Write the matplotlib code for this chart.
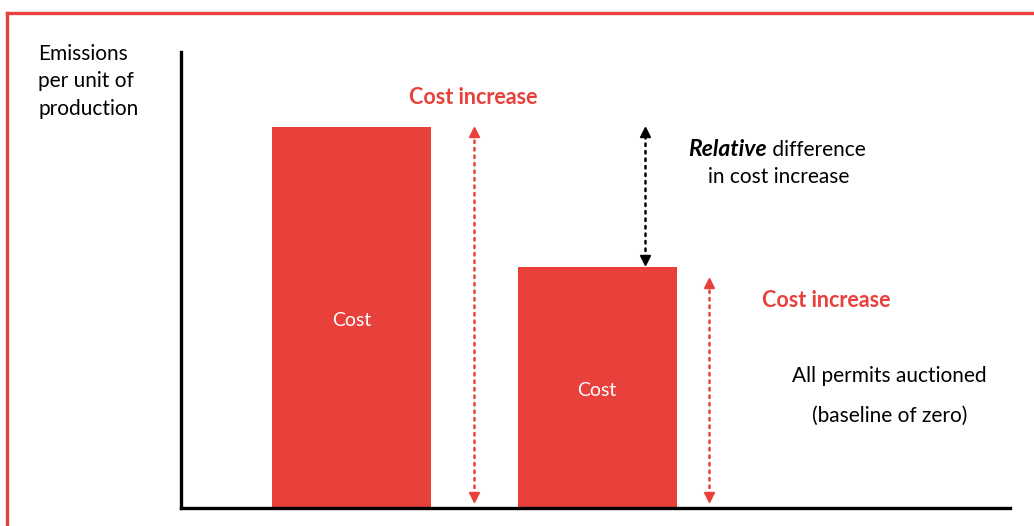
import matplotlib.pyplot as plt
from matplotlib.lines import Line2D

plt.rcParams['font.family'] = ['Lato', 'DejaVu Sans']

# schematic values (axis runs 0-100, x positions 0-10)
bar_labels = ["Cost", "Cost"]
bar_x = [2.06, 5.02]
bar_heights = [83.5, 52.9]
bar_width = 1.92

red = "#E8403A"

fig = plt.figure(figsize=(10.34, 5.26), dpi=100)
ax = fig.add_axes([181 / 1034, 18 / 526, 829 / 1034, 456 / 526])
ax.set_xlim(0, 10)
ax.set_ylim(0, 100)

ax.bar(bar_x, bar_heights, width=bar_width, color=red, zorder=2)
for x, h, lab in zip(bar_x, bar_heights, bar_labels):
    ax.text(x, h / 2 - 0.6, lab, color="white", fontsize=14, ha="center", va="center")


def dotted_arrow(x, y0, y1, color):
    ax.plot([x, x], [y0 + 1.5, y1 - 1.5], color=color, lw=1.8,
            linestyle=(0, (1, 2.0)), dash_capstyle="round", zorder=3)
    ax.plot([x], [y1 - 1.1], marker="^", color=color, markersize=7, zorder=3)
    ax.plot([x], [y0 + 1.1], marker="v", color=color, markersize=7, zorder=3)


# arrows showing the cost increase and the relative difference
dotted_arrow(3.53, 1.3, bar_heights[0], red)
dotted_arrow(6.37, 1.3, 50.4, red)
dotted_arrow(5.60, bar_heights[1] + 0.4, bar_heights[0], "black")

ax.text(3.52, 90.1, "Cost increase", color=red, fontsize=15.5,
        fontweight="bold", ha="center", va="center")
ax.text(7.78, 45.6, "Cost increase", color=red, fontsize=15.5,
        fontweight="bold", ha="center", va="center")

rel = ax.text(6.12, 78.7, "Relative", fontsize=16.5, fontweight="bold",
              fontstyle="italic", ha="left", va="center")
ax.annotate(" difference", xy=(1, 0), xycoords=rel, fontsize=15,
            ha="left", va="bottom")
ax.text(7.21, 72.6, "in cost increase", fontsize=15, ha="center", va="center")

ax.text(8.55, 28.9, "All permits auctioned", fontsize=15, ha="center", va="center")
ax.text(8.55, 20.2, "(baseline of zero)", fontsize=15, ha="center", va="center")

fig.text(38 / 1034, 1 - 44 / 526, "Emissions\nper unit of\nproduction",
         fontsize=15, ha="left", va="top", linespacing=1.46)

for s in ["top", "right"]:
    ax.spines[s].set_visible(False)
for s in ["left", "bottom"]:
    ax.spines[s].set_linewidth(2.4)
    ax.spines[s].set_capstyle("projecting")
ax.set_xticks([])
ax.set_yticks([])

# red frame along the top and left edges
fig.add_artist(Line2D([7 / 1034, 1], [1 - 12.5 / 526, 1 - 12.5 / 526],
                      color=red, lw=2.4, transform=fig.transFigure))
fig.add_artist(Line2D([7 / 1034, 7 / 1034], [0, 1 - 12.5 / 526],
                      color=red, lw=2.4, transform=fig.transFigure))

fig.savefig("out.png", dpi=100)
